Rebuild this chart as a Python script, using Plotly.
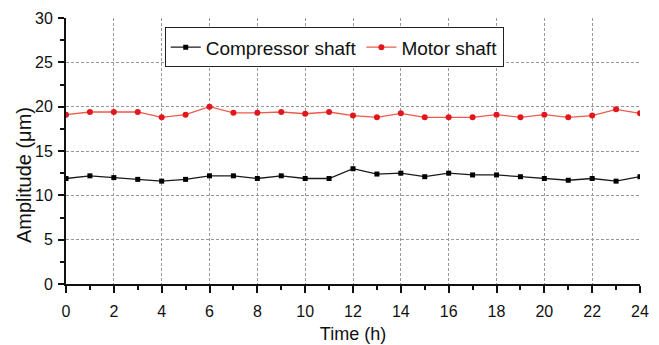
import plotly.graph_objects as go

hours = list(range(0, 25))
compressor = [11.9, 12.2, 12.0, 11.8, 11.6, 11.8, 12.2, 12.2, 11.9, 12.2, 11.9, 11.9,
              13.0, 12.4, 12.5, 12.1, 12.5, 12.3, 12.3, 12.1, 11.9, 11.7, 11.9, 11.6, 12.1]
motor = [19.1, 19.4, 19.4, 19.4, 18.8, 19.1, 20.0, 19.3, 19.3, 19.4, 19.2, 19.4,
         19.0, 18.8, 19.25, 18.8, 18.8, 18.8, 19.1, 18.8, 19.1, 18.8, 19.0, 19.7, 19.25]
x_ticks = list(range(0, 25, 2))
y_ticks = list(range(0, 31, 5))

REG = "Liberation Sans, Arial, sans-serif"

fig = go.Figure()
fig.add_trace(go.Scatter(x=hours, y=compressor, mode="lines+markers", name="Compressor shaft",
                         line=dict(color="#1a1a1a", width=1.3),
                         marker=dict(symbol="square", size=5, color="#000000")))
fig.add_trace(go.Scatter(x=hours, y=motor, mode="lines+markers", name="Motor shaft",
                         line=dict(color="#ee5a4c", width=1.3),
                         marker=dict(symbol="circle", size=6, color="#e3161c")))

fig.update_layout(
    width=659, height=345,
    margin=dict(l=66, r=19, t=18, b=61),
    paper_bgcolor="white", plot_bgcolor="white",
    font=dict(family=REG, color="#111111", size=16),
    legend=dict(orientation="h", x=0.172, y=0.965, xanchor="left", yanchor="top",
                bordercolor="#222222", borderwidth=1, bgcolor="white",
                font=dict(size=19, family=REG)),
    showlegend=True,
    annotations=[dict(text="Amplitude (μm)", textangle=-90, xref="paper", yref="paper",
                      x=-0.073, y=0.41, xanchor="center", yanchor="middle",
                      showarrow=False, font=dict(size=20, family=REG, color="#111111"))],
)
fig.update_xaxes(range=[0, 24], tickvals=x_ticks, ticktext=[str(v) for v in x_ticks],
                 showline=True, linecolor="#111111", linewidth=2, automargin=False,
                 ticks="outside", ticklen=7, tickwidth=2, tickcolor="#111111",
                 ticklabelstandoff=5,
                 showgrid=True, gridcolor="#999999", griddash="3px,2px", gridwidth=1,
                 zeroline=False,
                 minor=dict(tickvals=list(range(1, 24, 2)), ticks="outside", ticklen=4,
                            tickwidth=2, tickcolor="#111111", showgrid=False),
                 title=dict(text="Time (h)", font=dict(size=18), standoff=8),
                 tickfont=dict(size=16))
fig.update_yaxes(range=[0, 30], tickvals=y_ticks, ticktext=[str(v) for v in y_ticks],
                 showline=True, linecolor="#111111", linewidth=2, automargin=False,
                 ticks="outside", ticklen=6, tickwidth=2, tickcolor="#111111",
                 ticklabelstandoff=2,
                 showgrid=True, gridcolor="#999999", griddash="3px,2px", gridwidth=1,
                 zeroline=False,
                 minor=dict(tickvals=[2.5, 7.5, 12.5, 17.5, 22.5, 27.5], ticks="outside",
                            ticklen=4, tickwidth=2, tickcolor="#111111", showgrid=False),
                 title=dict(text=""),
                 tickfont=dict(size=16))

fig.write_html("out.html")
